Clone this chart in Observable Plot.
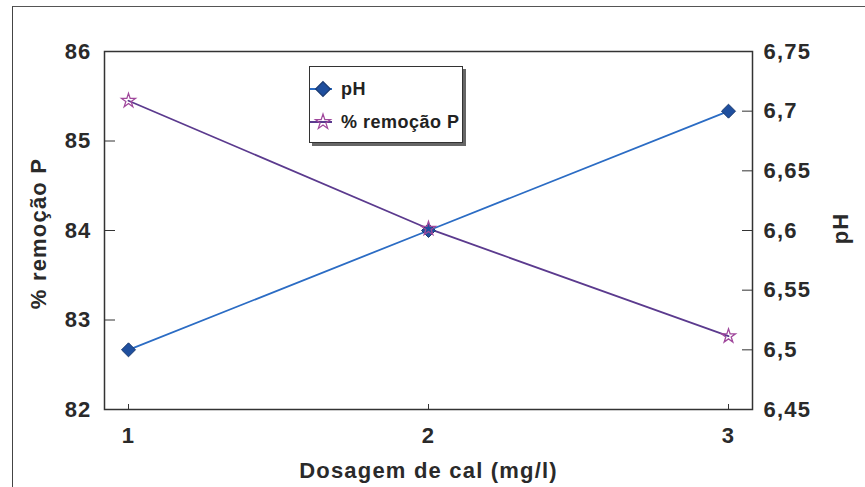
<!DOCTYPE html>
<html>
<head>
<meta charset="utf-8">
<script src="https://cdn.jsdelivr.net/npm/d3@7"></script>
<script src="https://cdn.jsdelivr.net/npm/@observablehq/plot@0.6"></script>
<style>
  html, body { margin: 0; padding: 0; background: #fff; }
  #wrap { position: relative; width: 865px; height: 487px; overflow: hidden; }
  #outer { position: absolute; left: 12px; top: 6px; width: 860px; height: 490px; border-left: 1.5px solid #444; border-top: 1.5px solid #555; box-sizing: border-box; pointer-events: none; }
  #legend { position: absolute; left: 309px; top: 66px; width: 154px; height: 77px; border: 1.5px solid #333; box-sizing: border-box; background: #fff; box-shadow: 3px 3px 0 #666; font-family: "Liberation Sans", Arial, sans-serif; font-weight: bold; font-size: 18px; letter-spacing: 0.5px; color: #222; }
  .item { position: absolute; left: 0; height: 24px; display: flex; align-items: center; }
  .item svg { display: block; }
  .item span { margin-left: 5px; }
</style>
</head>
<body>
<div id="wrap">
  <div id="chart"></div>
  <div id="outer"></div>
  <div id="legend"></div>
</div>
<script>
// ---- data ----
const dosagem = [1, 2, 3];
const remocao = [85.45, 84.02, 82.82];
const pH = [6.50, 6.60, 6.70];
const xTicks = [1, 2, 3];
const yTicks = [82, 83, 84, 85, 86];
const pHTicks = [6.45, 6.5, 6.55, 6.6, 6.65, 6.7, 6.75];
const pHTickLabels = ["6,45", "6,5", "6,55", "6,6", "6,65", "6,7", "6,75"];
const seriesNames = ["pH", "% remoção P"];
const xLabel = "Dosagem de cal (mg/l)";
const yLabel = "% remoção P";
const y2Label = "pH";

const colPH = "#2b6cc4";
const colPHFill = "#1f4f9e";
const colRem = "#5b3a8e";
const colStar = "#a0489c";

// map pH onto the left (% remoção) scale
const pHDomain = [6.45, 6.75];
const yDomain = [82, 86];
const toY = p => yDomain[0] + (p - pHDomain[0]) / (pHDomain[1] - pHDomain[0]) * (yDomain[1] - yDomain[0]);
const pHLabel = d => pHTickLabels[pHTicks.findIndex(p => Math.abs(toY(p) - d) < 1e-6)];

const chart = Plot.plot({
  width: 865,
  height: 487,
  marginLeft: 104,
  marginRight: 113,
  marginTop: 51,
  marginBottom: 78,
  x: {domain: [0.92, 3.08]},
  y: {domain: yDomain},
  style: {fontFamily: "'Liberation Sans', Arial, sans-serif", fontWeight: "bold", fontSize: "22px", letterSpacing: "1.2px", color: "#2a2a2a", background: "transparent", overflow: "visible"},
  marks: [
    Plot.frame({stroke: "#333", strokeWidth: 1.5}),
    // inward tick marks
    Plot.axisY(yTicks, {anchor: "left", tickSize: 11, dx: 11, tickFormat: () => "", label: null, stroke: "#333"}),
    Plot.axisY(pHTicks.map(toY), {anchor: "right", tickSize: 11, dx: -11, tickFormat: () => "", label: null, stroke: "#333"}),
    Plot.axisX(xTicks, {anchor: "bottom", tickSize: 5, dy: -5, tickFormat: () => "", label: null, stroke: "#333"}),
    // tick labels
    Plot.axisY(yTicks, {anchor: "left", tickSize: 0, tickPadding: 13, label: null, tickFormat: d => String(d)}),
    Plot.axisY(pHTicks.map(toY), {anchor: "right", tickSize: 0, tickPadding: 11, label: null, tickFormat: pHLabel}),
    Plot.axisX(xTicks, {anchor: "bottom", tickSize: 0, tickPadding: 18, label: null, tickFormat: d => String(d)}),
    // axis titles
    Plot.text([yLabel], {frameAnchor: "left", textAnchor: "middle", rotate: -90, dx: -66, dy: 3, fontSize: 22}),
    Plot.text([y2Label], {frameAnchor: "right", textAnchor: "middle", rotate: -90, dx: 88, dy: -2, fontSize: 22}),
    Plot.text([xLabel], {frameAnchor: "bottom", textAnchor: "middle", dy: 61, lineAnchor: "middle", fontSize: 22}),
    // series
    Plot.line(dosagem, {x: d => d, y: (d, i) => toY(pH[i]), stroke: colPH, strokeWidth: 1.8}),
    Plot.line(dosagem, {x: d => d, y: (d, i) => remocao[i], stroke: colRem, strokeWidth: 1.8}),
    Plot.dot(dosagem, {x: d => d, y: (d, i) => toY(pH[i]), symbol: "diamond2", r: 6.3, fill: colPHFill, stroke: "#1a3a70", strokeWidth: 1}),
    Plot.dot(dosagem, {x: d => d, y: (d, i) => remocao[i], symbol: "star", r: 4.4, fill: "none", stroke: colStar, strokeWidth: 1.3})
  ]
});
document.getElementById("chart").appendChild(chart);

// legend
const legend = document.getElementById("legend");
const sym = {
  "pH": {type: d3.symbolDiamond2, line: colPH, fill: colPHFill, stroke: "#1a3a70", size: 140},
  "% remoção P": {type: d3.symbolStar, line: colRem, fill: "none", stroke: colStar, size: 72}
};
seriesNames.forEach((name, i) => {
  const s = sym[name];
  const item = document.createElement("div");
  item.className = "item";
  item.style.top = (10 + i * 33) + "px";
  const svg = d3.create("svg").attr("width", 26).attr("height", 24);
  svg.append("line").attr("x1", 0).attr("x2", 22).attr("y1", 12).attr("y2", 12).attr("stroke", s.line).attr("stroke-width", 2);
  svg.append("path").attr("d", d3.symbol(s.type, s.size)()).attr("transform", "translate(13,12)")
    .attr("fill", s.fill).attr("stroke", s.stroke).attr("stroke-width", 1.2);
  item.appendChild(svg.node());
  const sp = document.createElement("span");
  sp.textContent = name;
  item.appendChild(sp);
  legend.appendChild(item);
});
</script>
</body>
</html>
